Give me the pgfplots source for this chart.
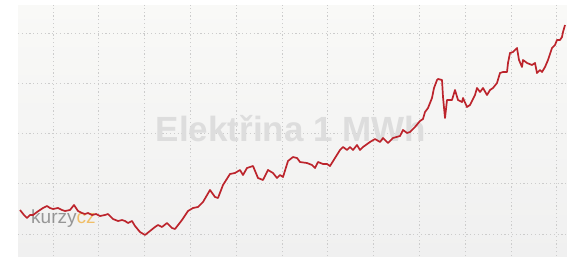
\documentclass[border=0pt]{standalone}
\usepackage{pgfplots}
\pgfplotsset{compat=1.18}
\usepackage{fontspec}
\setmainfont{Liberation Sans}
\definecolor{lineRed}{RGB}{188,36,44}
\definecolor{bgTop}{RGB}{249,249,247}
\definecolor{bgBot}{RGB}{240,240,240}
\definecolor{wm}{RGB}{221,221,221}
\definecolor{czOrange}{RGB}{240,178,70}
\begin{document}
\begin{tikzpicture}
\useasboundingbox (-18pt,-2pt) rectangle (549pt,256pt);
\fill[white] (-18pt,-2pt) rectangle (549pt,256pt);
\shade[top color=bgTop, bottom color=bgBot] (0pt,0pt) rectangle (549pt,251pt);
\begin{axis}[
  scale only axis, width=549pt, height=251pt,
  xmin=18, xmax=567, ymin=2, ymax=253,
  axis line style={draw=none},
  tick style={draw=none},
  xtick={53,98.8,144.6,190.4,236.2,282,327.8,373.6,419.4,465.2,511,556.8},
  ytick={24,74.3,124.5,174.8,225},
  xticklabels={}, yticklabels={},
  grid=major,
  major grid style={dash pattern=on 1.2pt off 2.6pt, line width=0.7pt, color=black!20},
]
\node[text=wm, font=\bfseries\fontsize{35}{35}\selectfont, anchor=center] at (axis cs:291,129) {Elektřina 1 MWh};
\node[anchor=base west, font=\fontsize{19}{19}\selectfont, inner sep=0pt, opacity=0.8] at (axis cs:31,35) {\textcolor{black!50}{kurzy}\textcolor{czOrange}{cz}};
\addplot[color=lineRed, line width=1.7pt, line join=round] coordinates {
(20,48)(24,43)(27,40)(30,43)(33,43)(37,46)(43,50)(47,52)(50,50)(53,49)(58,50)(62,48)(65,47)(70,48)(74,53)(78,47)(82,45)(85,44)(88,45)(92,43)(96,44)(100,42)(105,43)(108,44)(113,39)(118,37)(122,38)(125,37)(128,35)(132,37)(135,32)(140,26)(145,23)(150,27)(155,31)(158,33)(162,31)(167,35)(172,30)(175,29)(182,38)(188,47)(193,50)(198,51)(203,56)(210,68)(215,61)(218,60)(223,73)(230,84)(235,85)(240,88)(243,83)(247,90)(253,92)(258,80)(263,78)(268,88)(273,85)(277,80)(280,83)(283,81)(288,97)(293,101)(297,100)(300,96)(307,95)(312,93)(315,90)(318,96)(323,94)(327,94)(330,92)(335,100)(340,108)(343,111)(347,108)(350,111)(353,108)(357,113)(360,108)(363,111)(370,116)(375,119)(380,116)(383,120)(388,115)(393,120)(400,122)(403,128)(407,125)(410,126)(415,131)(420,137)(423,139)(425,146)(428,150)(432,160)(434,170)(437,178)(438,179)(442,178)(443,161)(445,140)(447,158)(452,158)(455,168)(458,158)(462,156)(463,160)(467,151)(470,153)(475,163)(477,170)(480,166)(483,170)(487,163)(490,168)(493,170)(497,175)(500,185)(503,186)(507,186)(508,195)(510,205)(513,206)(517,210)(519,198)(522,191)(523,198)(527,195)(532,193)(535,195)(537,185)(540,188)(542,186)(545,191)(548,198)(552,210)(555,213)(557,218)(560,218)(562,221)(563,226)(565,233)
};
\end{axis}
\end{tikzpicture}
\end{document}
